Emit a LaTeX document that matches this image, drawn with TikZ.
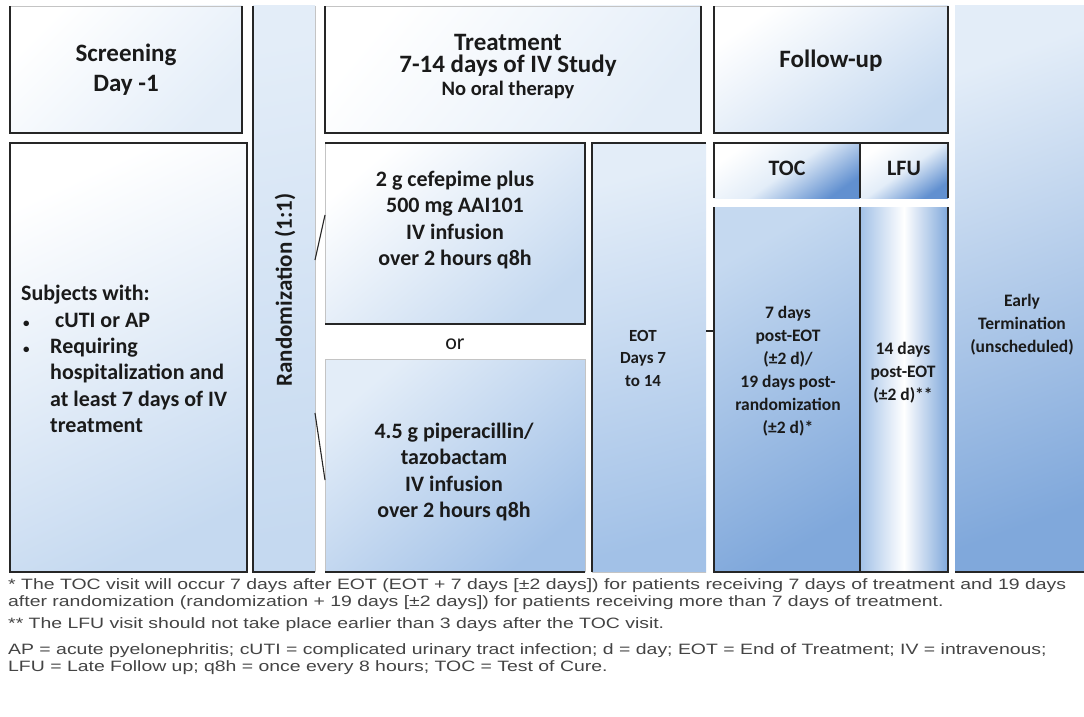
\documentclass[tikz,border=0pt]{standalone}
\usepackage{fontspec}
\usepackage{graphicx}
\setmainfont{Carlito}
\newfontfamily\fnfont{Liberation Sans}
\usetikzlibrary{calc}
\definecolor{dk}{HTML}{262626}
\definecolor{lg}{HTML}{C4C4C4}
\definecolor{txt}{HTML}{1A1A1A}
\definecolor{fnc}{HTML}{444444}
\definecolor{bA}{HTML}{E3EDF8}
\definecolor{bB}{HTML}{C5D9F0}
\definecolor{bC}{HTML}{A2C1E7}
\definecolor{bD}{HTML}{80A8DB}
\definecolor{bE}{HTML}{6190D0}
\newlength\fnw
\begin{document}
\settowidth{\fnw}{\fnfont\fontsize{15}{17}\selectfont * The TOC visit will occur 7 days after EOT (EOT + 7 days [±2 days]) for patients receiving 7 days of treatment and 19 days}%
\pgfmathsetmacro{\fnk}{1058/\fnw}%
\begin{tikzpicture}[x=1pt,y=-1pt,
  bx/.style={inner sep=0pt, outer sep=0pt, anchor=north west},
  dkl/.style={draw=dk, line width=1.3pt},
  ltl/.style={draw=lg, line width=0.9pt},
  bigt/.style={text=txt, align=center, inner sep=0pt, font=\bfseries\fontsize{25}{30}\selectfont},
  midt/.style={text=txt, align=center, inner sep=0pt, font=\bfseries\fontsize{22}{26.3}\selectfont},
  smt/.style={text=txt, align=center, inner sep=0pt, font=\bfseries\fontsize{17.5}{23}\selectfont},
  fn/.style={text=fnc, anchor=west, inner sep=0pt, font=\fnfont\fontsize{15}{17}\selectfont}]
\useasboundingbox (0,0) rectangle (1084,717);
\fill[white] (0,0) rectangle (1084,717);

% ---------- boxes (fills) ----------
\node[bx, minimum width=232, minimum height=127, top color=white, bottom color=bA, shading angle=45] (scr) at (10,6) {};
\node[bx, minimum width=237, minimum height=429, top color=white, bottom color=bB, shading angle=25] (subj) at (10,143) {};
\node[bx, minimum width=62, minimum height=566, top color=bA, bottom color=bB, shading angle=10] (rand) at (253,6) {};
\node[bx, minimum width=376, minimum height=127, top color=white, bottom color=bA, shading angle=50] (trt) at (325,6) {};
\node[bx, minimum width=260, minimum height=181, top color=white, bottom color=bB, shading angle=40] (cef) at (325,143) {};
\node[bx, minimum width=260, minimum height=213, top color=bA, bottom color=bC, shading angle=40] (pip) at (325,359) {};
\node[bx, minimum width=114, minimum height=429, top color=bA, bottom color=bC, shading angle=15] (eot) at (592,143) {};
\node[bx, minimum width=234, minimum height=127, top color=white, bottom color=bB, shading angle=35] (fup) at (714,6) {};
\node[bx, minimum width=146, minimum height=55, top color=white, bottom color=bE, middle color=bA, shading angle=35] (tocH) at (714,143) {};
\node[bx, minimum width=88, minimum height=55, top color=white, bottom color=bE, middle color=bA, shading angle=35] (lfuH) at (860,143) {};
\node[bx, minimum width=146, minimum height=365, top color=bB, bottom color=bD, shading angle=30] (tocL) at (714,207) {};
\node[bx, minimum width=88, minimum height=365, left color=bC, right color=bD, middle color=white] (lfuL) at (860,207) {};
\node[bx, minimum width=129, minimum height=566, top color=bA, bottom color=bD, shading angle=20] (early) at (955,6) {};

% ---------- borders ----------
\draw[ltl] (scr.north west) -- (scr.north east);
\draw[dkl] (scr.north east) -- (scr.south east) -- (scr.south west) -- (scr.north west);
\draw[dkl] (subj.north west) rectangle (subj.south east);
\draw[dkl] (rand.north west) -- (rand.south west) -- (rand.south east);
\draw[ltl] (rand.south east) -- (rand.north east);
\draw[ltl] (trt.north west) -- (trt.north east);
\draw[dkl] (trt.north east) -- (trt.south east) -- (trt.south west) -- (trt.north west);
\draw[ltl] (cef.south west) -- (cef.north west);
\draw[dkl] (cef.north west) -- (cef.north east) -- (cef.south east) -- (cef.south west);
\draw[ltl] (pip.south west) -- (pip.north west) -- (pip.north east) -- (pip.south east);
\draw[dkl] (pip.south west) -- (pip.south east);
\draw[dkl] (eot.south west) -- (eot.north west) -- (eot.north east);
\draw[ltl] (eot.south west) -- (eot.south east);
\draw[ltl] (fup.north west) -- (fup.north east);
\draw[dkl] (fup.north east) -- (fup.south east) -- (fup.south west) -- (fup.north west);
\draw[dkl] (tocH.south west) -- (tocH.north west) -- (lfuH.north east) -- (lfuH.south east);
\draw[dkl] (tocH.north east) -- (tocH.south east);
\draw[dkl] (tocL.north west) -- (tocL.south west) -- (lfuL.south east) -- (lfuL.north east);
\draw[dkl] (tocL.north east) -- (tocL.south east);
\draw[dkl] (early.south west) -- (early.south east);

% ---------- connectors ----------
\draw[dkl, line width=1.1pt] (rand.east |- 0,260) -- (cef.west |- 0,215);
\draw[dkl, line width=1.1pt] (rand.east |- 0,413) -- (pip.west |- 0,480);
\draw[dkl, line width=1.1pt] (eot.east |- 0,331) -- (tocL.west |- 0,331);

% ---------- texts ----------
\node[bigt] (scrT) at (126,70) {Screening\\Day -1};
\node[midt, align=left, anchor=west] (subjT) at (21,359)
 {Subjects with:\\
  \makebox[29pt][l]{\hspace{2pt}{\fontsize{13}{13}\selectfont\textbullet}}\hspace{5pt}cUTI or AP\\
  \makebox[29pt][l]{\hspace{2pt}{\fontsize{13}{13}\selectfont\textbullet}}Requiring\\
  \hspace{29pt}hospitalization and\\
  \hspace{29pt}at least 7 days of IV\\
  \hspace{29pt}treatment};
\node[midt, rotate=90, font=\bfseries\fontsize{23}{26}\selectfont] (randT) at (285,290) {Randomization (1:1)};
\node[bigt] (trt1) at (508,42) {Treatment};
\node[bigt] (trt2) at (508,66) {7-14 days of IV Study};
\node[bigt, font=\bfseries\fontsize{20.5}{24}\selectfont] (trt3) at (508,90) {No oral therapy};
\node[midt] (cefT) at (455,220) {2 g cefepime plus\\500 mg AAI101\\IV infusion\\over 2 hours q8h};
\node[midt, font=\fontsize{22}{26}\selectfont] (orT) at (455,344) {or};
\node[midt] (pipT) at (454,472) {4.5 g piperacillin/\\tazobactam\\IV infusion\\over 2 hours q8h};
\node[smt, font=\bfseries\fontsize{17}{22.5}\selectfont] (eotT) at (643,358) {EOT\\Days 7\\to 14};
\node[bigt] (fupT) at (831,61) {Follow-up};
\node[midt] (tocT) at (787,168) {TOC};
\node[midt] (lfuT) at (904,168) {LFU};
\node[smt] (tocLT) at (788,371) {7 days\\post-EOT\\(±2 d)/\\19 days post-\\randomization\\(±2 d)*};
\node[smt] (lfuLT) at (903,373) {14 days\\post-EOT\\(±2 d)**};
\node[smt] (earlyT) at (1022,325) {Early\\Termination\\(unscheduled)};

% ---------- footnotes ----------
\node[fn] (f1) at (8,586) {\scalebox{\fnk}[1]{* The TOC visit will occur 7 days after EOT (EOT + 7 days [±2 days]) for patients receiving 7 days of treatment and 19 days}};
\node[fn] (f2) at (8,603) {\scalebox{\fnk}[1]{after randomization (randomization + 19 days [±2 days]) for patients receiving more than 7 days of treatment.}};
\node[fn] (f3) at (8,625) {\scalebox{\fnk}[1]{** The LFU visit should not take place earlier than 3 days after the TOC visit.}};
\node[fn] (f4) at (8,651) {\scalebox{\fnk}[1]{AP = acute pyelonephritis; cUTI = complicated urinary tract infection; d = day; EOT = End of Treatment; IV = intravenous;}};
\node[fn] (f5) at (8,668) {\scalebox{\fnk}[1]{LFU = Late Follow up; q8h = once every 8 hours; TOC = Test of Cure.}};
\end{tikzpicture}
\end{document}
